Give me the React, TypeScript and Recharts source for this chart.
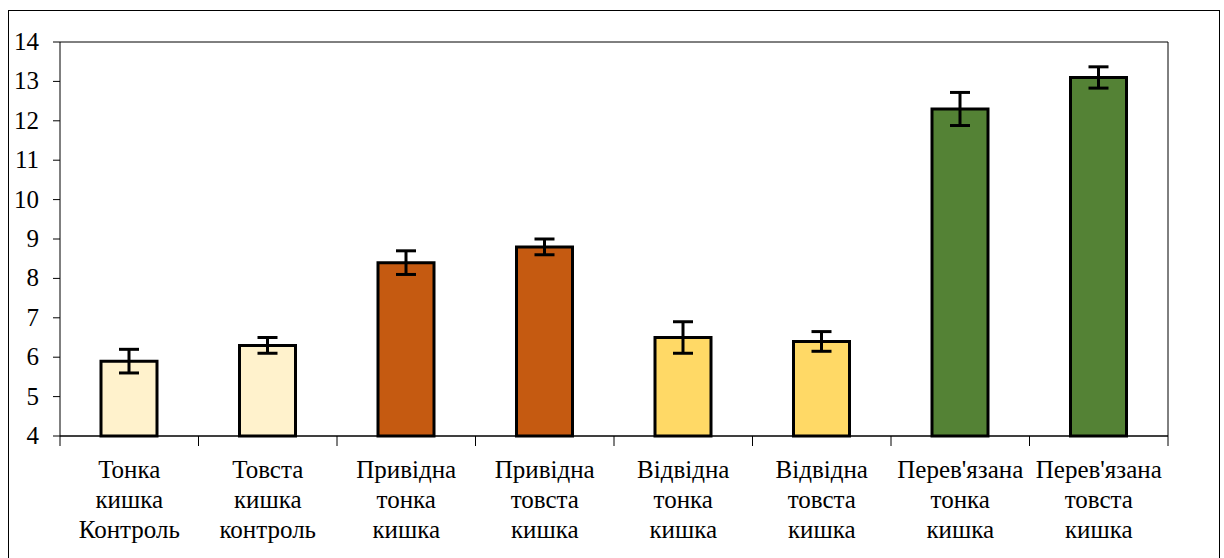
import React from "react";
import {
  BarChart,
  Bar,
  XAxis,
  YAxis,
  CartesianGrid,
  ErrorBar,
  Cell,
} from "recharts";

const categories = [
  ["Тонка", "кишка", "Контроль"],
  ["Товста", "кишка", "контроль"],
  ["Привідна", "тонка", "кишка"],
  ["Привідна", "товста", "кишка"],
  ["Відвідна", "тонка", "кишка"],
  ["Відвідна", "товста", "кишка"],
  ["Перев'язана", "тонка", "кишка"],
  ["Перев'язана", "товста", "кишка"],
];
const values = [5.9, 6.3, 8.4, 8.8, 6.5, 6.4, 12.3, 13.1];
const errors = [0.3, 0.2, 0.3, 0.2, 0.4, 0.25, 0.42, 0.27];
const colors = [
  "#FFF2CC",
  "#FFF2CC",
  "#C55A11",
  "#C55A11",
  "#FFD966",
  "#FFD966",
  "#548235",
  "#548235",
];
const yTicks = [4, 5, 6, 7, 8, 9, 10, 11, 12, 13, 14];

const data = categories.map((lines, i) => ({
  name: lines.join(" "),
  value: values[i],
  err: errors[i],
}));

const FONT = "Liberation Serif";
const STEP = 1108 / 8;

const css = `
.chart-box text, .chart-box tspan {
  font-family: "Liberation Serif", serif !important;
}
`;

// category label (3 lines) plus the boundary tick below the axis
function CategoryTick(props: any) {
  const { x, y, index } = props;
  const lines = categories[index] ?? [];
  return (
    <g>
      <line x1={x - STEP / 2} y1={y} x2={x - STEP / 2} y2={y + 10} stroke="#000" />
      {index === categories.length - 1 && (
        <line x1={x + STEP / 2} y1={y} x2={x + STEP / 2} y2={y + 10} stroke="#000" />
      )}
      <text
        x={x}
        y={y + 42}
        textAnchor="middle"
        fontFamily={FONT}
        fontSize={25}
        fill="#000"
      >
        {lines.map((l, i) => (
          <tspan key={i} x={x} dy={i === 0 ? 0 : 30}>
            {l}
          </tspan>
        ))}
      </text>
    </g>
  );
}

function ValueTick(props: any) {
  const { x, y, payload, textAnchor } = props;
  return (
    <text
      x={x}
      y={y}
      dy={8}
      textAnchor={textAnchor}
      fontFamily={FONT}
      fontSize={25}
      fill="#000"
    >
      {payload.value}
    </text>
  );
}

export default function App() {
  return (
    <div
      className="chart-box"
      style={{
        position: "fixed",
        left: 8,
        top: 10,
        width: 1210,
        height: 548,
        border: "1px solid #000",
        background: "#fff",
      }}
    >
      <style>{css}</style>
      <BarChart
        width={1210}
        height={546}
        data={data}
        margin={{ top: 31, right: 0, left: 0, bottom: 0 }}
        barSize={56}
      >
        <CartesianGrid vertical={false} stroke="#000" />
        <XAxis
          dataKey="name"
          height={121}
          interval={0}
          tickLine={false}
          tickSize={0}
          tickMargin={0}
          axisLine={{ stroke: "#000" }}
          tick={<CategoryTick />}
        />
        <YAxis
          yAxisId="left"
          orientation="left"
          width={51}
          domain={[4, 14]}
          ticks={yTicks}
          interval={0}
          tickSize={7}
          tickMargin={14}
          axisLine={{ stroke: "#000" }}
          tickLine={{ stroke: "#000" }}
          tick={<ValueTick />}
        />
        <YAxis
          yAxisId="right"
          orientation="right"
          width={51}
          domain={[4, 14]}
          ticks={yTicks}
          interval={0}
          tickSize={7}
          tickMargin={14}
          axisLine={{ stroke: "#000" }}
          tickLine={{ stroke: "#000" }}
          tick={<ValueTick />}
        />
        <Bar
          yAxisId="left"
          dataKey="value"
          stroke="#000"
          strokeWidth={3}
          isAnimationActive={false}
        >
          {data.map((_, i) => (
            <Cell key={`c-${i}`} fill={colors[i]} />
          ))}
          <ErrorBar dataKey="err" width={10} stroke="#000" strokeWidth={3} />
        </Bar>
      </BarChart>
    </div>
  );
}
